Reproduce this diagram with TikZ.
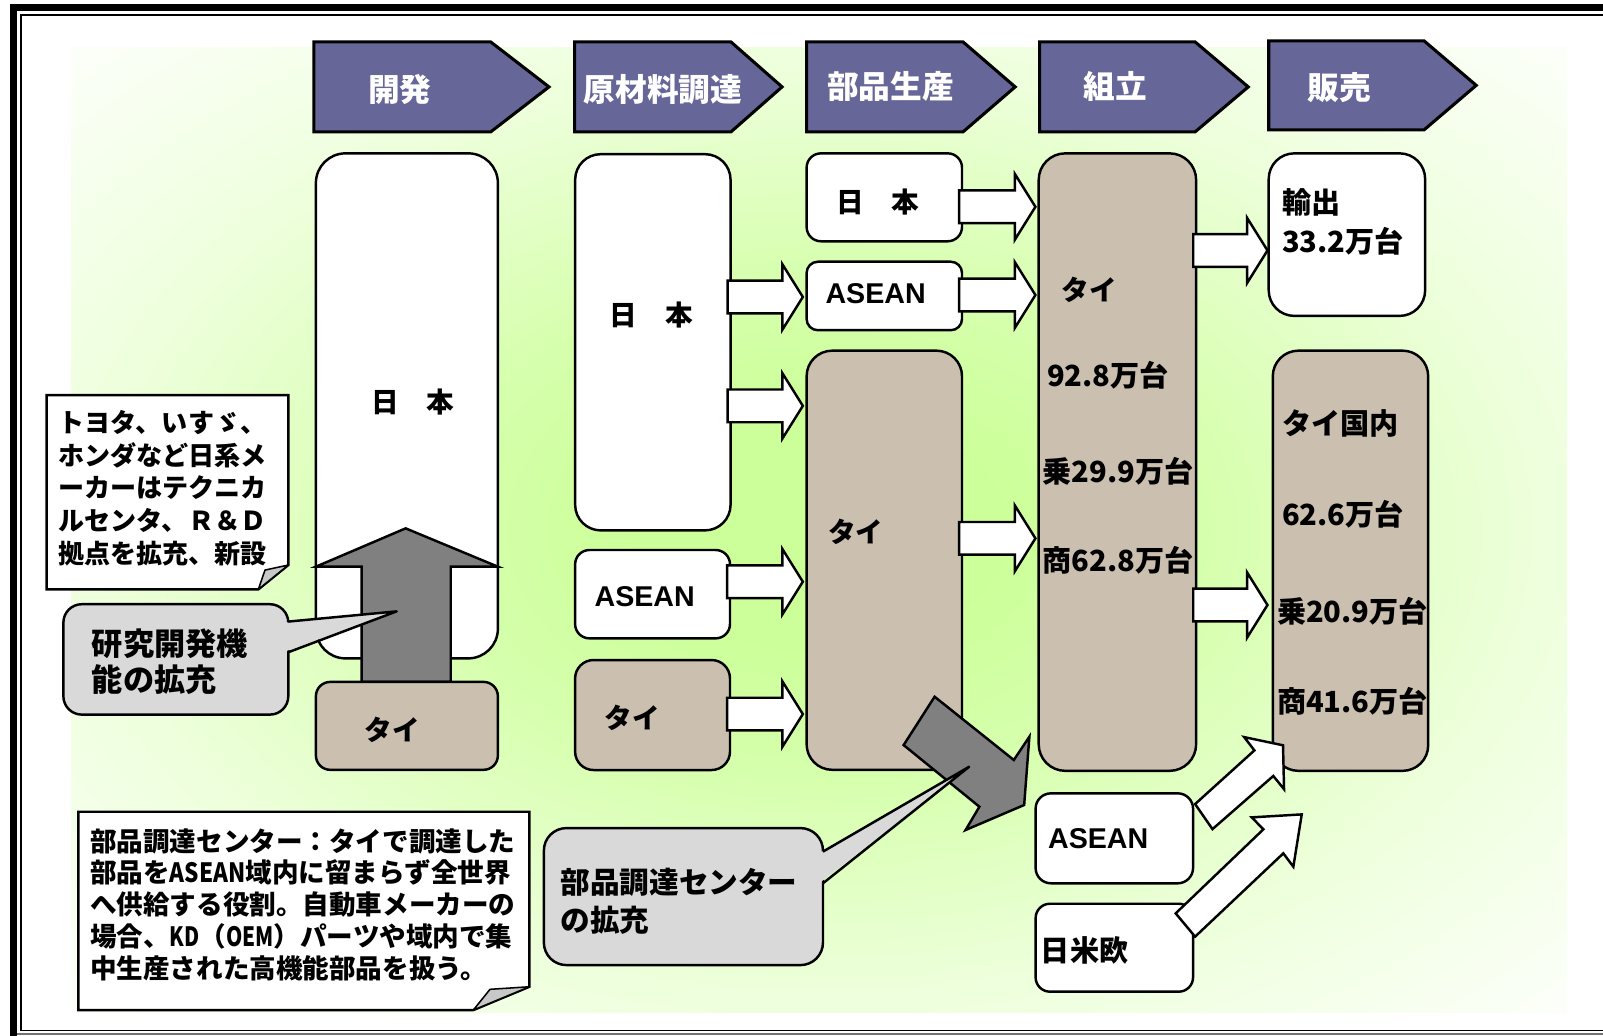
\documentclass[tikz,border=0pt]{standalone}
\usepackage{fontspec}
\usepackage{graphicx}
\setmainfont{Noto Sans CJK JP}
\newfontfamily\latfont{Liberation Sans}
\usetikzlibrary{calc}
\definecolor{hdrc}{RGB}{102,102,153}
\definecolor{tanc}{RGB}{203,191,176}
\definecolor{bgg}{RGB}{204,255,153}
\colorlet{bga}{bgg!80!white}
\colorlet{bgb}{bgg!35!white}
\colorlet{bgedge}{bgg!6!white}
\definecolor{bubc}{RGB}{217,217,217}
\definecolor{grayar}{RGB}{128,128,128}
\definecolor{foldc}{RGB}{200,200,200}
\pgfdeclareradialshading{bgshade}{\pgfpoint{0bp}{0bp}}{color(0bp)=(bgg); color(6bp)=(bgg); color(13bp)=(bga); color(24bp)=(bgb); color(35bp)=(bgedge); color(100bp)=(bgedge)}
\tikzset{
  box/.style={rectangle, draw=black, line width=2.4pt, inner sep=0pt},
  wbox/.style={box, fill=white},
  tbox/.style={box, fill=tanc},
  blk/.style={draw=black, line width=2.4pt, fill=white, line join=miter},
  gblk/.style={draw=black, line width=2.4pt, fill=grayar, line join=miter},
  hdr/.style={draw=black, line width=3pt, fill=hdrc, line join=miter},
  htxt/.style={inner sep=0pt, text=white, font=\fontsize{31}{31}\selectfont\bfseries},
  jtxt/.style={inner sep=0pt, font=\fontsize{27}{27}\selectfont\bfseries},
  ntxt/.style={inner sep=0pt, font=\fontsize{28.5}{28.5}\selectfont\bfseries, anchor=west},
  atxt/.style={inner sep=0pt, font=\fontsize{28}{28}\selectfont\latfont\bfseries},
  note/.style={draw=black, line width=2.4pt, fill=white, line join=miter},
  fold/.style={draw=black, line width=1.5pt, fill=foldc, line join=round},
  bub/.style={draw=black, line width=2.4pt, fill=bubc},
  ptr/.style={draw=black, line width=2.4pt, line join=round},
  mtxt/.style={inner sep=0pt, anchor=north west, align=left},
}
\newcommand\harrow[4]{%
  \coordinate (hy) at (0,#3);
  \draw[blk] ($(#1.east |- hy)+(-4,-16)$) -- ($(#2.west |- hy)+(-#4-20,-16)$) -- ($(#2.west |- hy)+(-#4-20,-32)$) -- ($(#2.west |- hy)+(-#4,0)$) -- ($(#2.west |- hy)+(-#4-20,32)$) -- ($(#2.west |- hy)+(-#4-20,16)$) -- ($(#1.east |- hy)+(-4,16)$) -- cycle;}
\newcommand\hdrshape[5]{%
  \draw[hdr] (#1,#4) -- (#2,#4) -- (#3,{(#4+#5)/2}) -- (#2,#5) -- (#1,#5) -- cycle;}
\newcommand\cnd[2]{\scalebox{#1}[1]{#2}}
\begin{document}
\begin{tikzpicture}[x=1pt,y=-1pt]
\useasboundingbox (0,0) rectangle (1568,1013);
% background
\shade[shading=bgshade] (70,46) rectangle (1533,990);
% frame
\draw[line width=7pt] (1568,7.5) -- (13.5,7.5) -- (13.5,1013);
\draw[line width=1.5pt] (1568,14.5) -- (20.5,14.5) -- (20.5,1008) -- (1568,1008);
\draw[line width=1.2pt, black!55] (17,1011.5) -- (1568,1011.5);
% headers
\hdrshape{307}{480}{537}{41}{129}
\hdrshape{562}{715}{765}{41}{129}
\hdrshape{789}{942}{993}{41}{129}
\hdrshape{1017}{1169}{1221}{41}{129}
\hdrshape{1241}{1393}{1444}{40}{127}
\node[htxt] (h1t) at (391,88) {開発};
\node[htxt] (h2t) at (648.5,88) {原材料調達};
\node[htxt] (h3t) at (871,85) {部品生産};
\node[htxt] (h4t) at (1091,85) {組立};
\node[htxt] (h5t) at (1310,86) {販売};
% column 1
\node[wbox, minimum width=178, minimum height=494, rounded corners=29] (j1) at (398,397) {};
\draw[gblk] (353.8,667) -- (353.8,554.3) -- (309,554.3) -- (396.8,516.8) -- (487,554.3) -- (440.9,554.3) -- (440.9,667) -- cycle;
\node[tbox, minimum width=178, minimum height=86, rounded corners=14] (t1) at (398,710) {};
% column 2
\node[wbox, minimum width=152, minimum height=368, rounded corners=25] (j2) at (638.6,334.8) {};
\node[wbox, minimum width=151.5, minimum height=86.4, rounded corners=14] (a2) at (638.3,581.2) {};
\node[tbox, minimum width=151.5, minimum height=107.6, rounded corners=18] (t2) at (638.3,699.4) {};
% column 3
\node[wbox, minimum width=152, minimum height=86, rounded corners=14] (j3) at (865,193) {};
\node[wbox, minimum width=152, minimum height=67, rounded corners=11] (a3) at (865,289.5) {};
\node[tbox, minimum width=152, minimum height=410, rounded corners=25] (t3) at (865,548) {};
% column 4
\node[tbox, minimum width=154, minimum height=604, rounded corners=26] (t4) at (1093,452) {};
\node[wbox, minimum width=154, minimum height=88, rounded corners=15] (a4) at (1090,820) {};
\node[wbox, minimum width=154, minimum height=86, rounded corners=14] (e4) at (1090,927) {};
% column 5
\node[wbox, minimum width=153, minimum height=159, rounded corners=25] (x5) at (1317.5,229.5) {};
\node[tbox, minimum width=152, minimum height=411, rounded corners=25] (d5) at (1321,548.5) {};
% block arrows
\harrow{j2}{a3}{290.5}{2.5}
\harrow{j2}{t3}{397}{2.5}
\harrow{a2}{t3}{569}{2.5}
\harrow{t2}{t3}{698.5}{2.5}
\harrow{j3}{t4}{202.3}{2}
\harrow{a3}{t4}{288.6}{2}
\harrow{t3}{t4}{526.6}{2}
\harrow{t4}{x5}{245}{0}
\harrow{t4}{d5}{591.8}{4}
\draw[blk] (1169,786.5) -- (1227,734) -- (1217,721) -- (1255,729) -- (1256,772) -- (1245.5,759) -- (1186,811) -- cycle;
\draw[blk] (1150,893.4) -- (1235.8,811.2) -- (1224.4,799.5) -- (1273.3,796.6) -- (1265.1,847.8) -- (1255.3,834.7) -- (1169,916.2) -- cycle;
\draw[gblk] (883.9,728.8) -- (914.2,681.5) -- (991.7,743.4) -- (1006.9,720.6) -- (1001.8,787.4) -- (944.5,811.9) -- (958,789.1) -- cycle;
% notes
\draw[note] (45.6,386.4) -- (282,386.4) -- (282,552.7) -- (252.7,576.5) -- (45.6,576.5) -- cycle;
\draw[fold] (252.7,576.5) -- (259.2,557.6) -- (282,552.7) -- cycle;
\draw[note] (76.6,794) -- (517.8,794) -- (517.8,965.2) -- (463,988) -- (76.6,988) -- cycle;
\draw[fold] (463,988) -- (479.3,967.7) -- (517.8,965.2) -- cycle;
% bubbles
\draw[bub, rounded corners=18] (62,591) rectangle (282,699);
\fill[bubc] (279.6,609) -- (388,598) -- (279.6,637) -- cycle;
\draw[ptr] (282,608) -- (388,598) -- (282,638);
\draw[bub, rounded corners=22] (532,810) rectangle (805,944);
\fill[bubc] (802.6,834) -- (948,750) -- (802.6,863) -- cycle;
\draw[ptr] (805,833) -- (948,750) -- (805,864);
% texts
\node[jtxt] (j1t) at (403.5,393.7) {日　本};
\node[jtxt] (t1t) at (384,714) {タイ};
\node[jtxt] (j2t) at (637,308.6) {日　本};
\node[atxt] (a2t) at (630.6,583.2) {ASEAN};
\node[jtxt] (t2t) at (618.6,702.5) {タイ};
\node[jtxt] (j3t) at (858.5,197.3) {日　本};
\node[atxt] (a3t) at (856.5,287.6) {ASEAN};
\node[jtxt] (t3t) at (837,520) {タイ};
\node[jtxt] (t4t) at (1065.5,283.7) {タイ};
\node[ntxt] (n1) at (1024,366.8) {92.8万台};
\node[ntxt] (n2) at (1019.5,460.6) {乗29.9万台};
\node[ntxt] (n3) at (1019.5,547.8) {商62.8万台};
\node[atxt, anchor=west] (a4t) at (1025,820.8) {ASEAN};
\node[ntxt] (e4t) at (1018,930) {日米欧};
\node[ntxt] (x5a) at (1254,198) {輸出};
\node[ntxt] (x5b) at (1254,236.4) {33.2万台};
\node[ntxt] (d5a) at (1254,414) {タイ国内};
\node[ntxt] (d5b) at (1254,503) {62.6万台};
\node[ntxt] (d5c) at (1249,598.4) {乗20.9万台};
\node[ntxt] (d5d) at (1249,685.5) {商41.6万台};
\node[mtxt, font=\fontsize{25.5}{32}\selectfont\bfseries] (note1) at (57,401) {トヨタ、いすゞ、\\ホンダなど日系メ\\ーカーはテクニカ\\ルセンタ、Ｒ＆Ｄ\\拠点を拡充、新設};
\node[mtxt, font=\fontsize{26}{31.25}\selectfont\bfseries] (note2) at (88,810) {部品調達センター：タイで調達した\\部品を\cnd{0.85}{ASEAN}域内に留まらず全世界\\へ供給する役割。自動車メーカーの\\場合、\cnd{0.78}{KD}（\cnd{0.78}{OEM}）パーツや域内で集\\中生産された高機能部品を扱う。};
\node[mtxt, font=\fontsize{30.5}{35}\selectfont\bfseries] (bub1t) at (89.7,615) {研究開発機\\能の拡充};
\node[mtxt, font=\fontsize{29}{37.6}\selectfont\bfseries] (bub2t) at (548,849) {部品調達センター\\の拡充};
\end{tikzpicture}
\end{document}
